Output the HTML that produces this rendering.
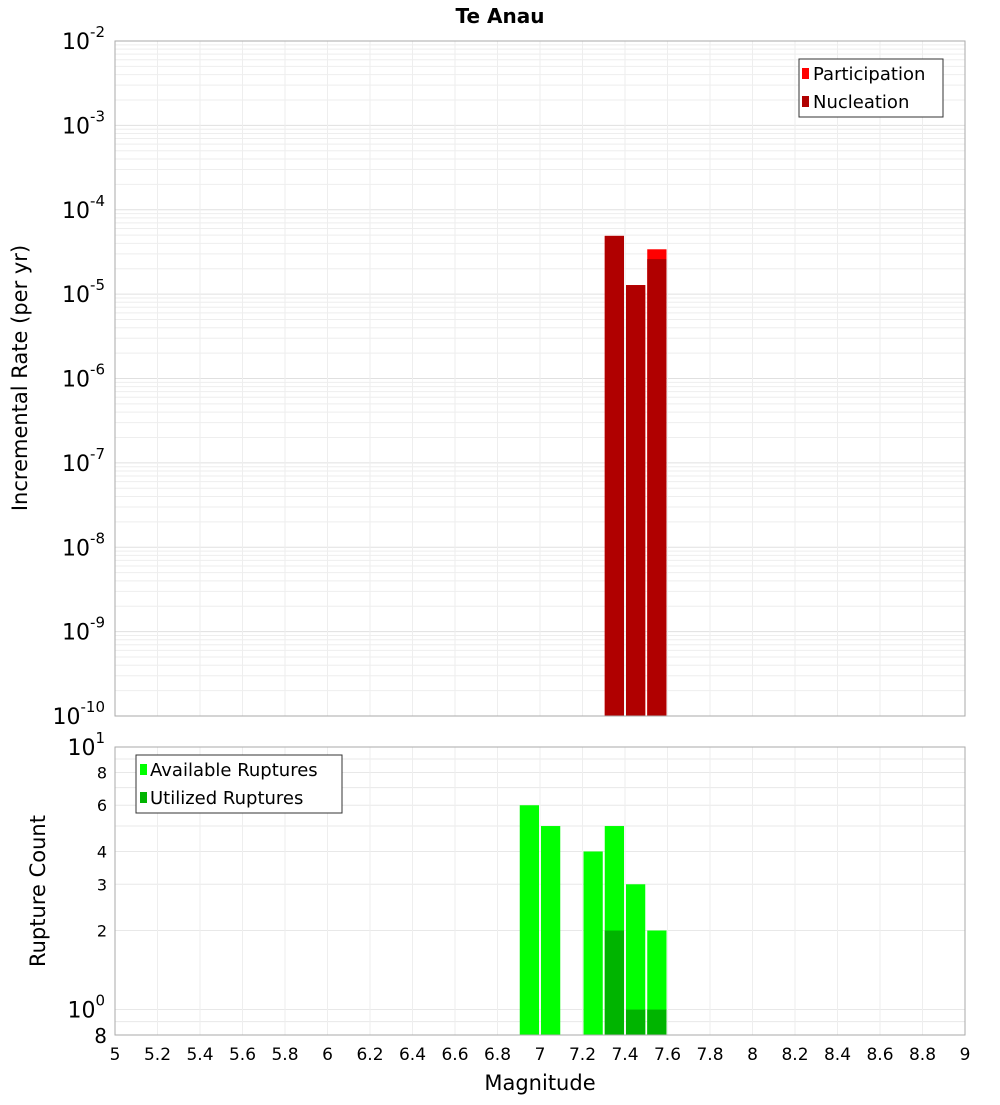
<!DOCTYPE html>
<html><head><meta charset="utf-8"><style>
body{margin:0;background:#fff;font-family:"Liberation Sans","DejaVu Sans",sans-serif}
</style></head><body>
<svg id="chart" width="1000" height="1100" xmlns="http://www.w3.org/2000/svg" font-family="DejaVu Sans, Liberation Sans, sans-serif">
<text x="500" y="23" text-anchor="middle" font-size="20" font-weight="bold">Te Anau</text>
<g id="topg"></g><g id="botg"></g>
<text transform="translate(27,378) rotate(-90)" text-anchor="middle" font-size="21">Incremental Rate (per yr)</text>
<text transform="translate(45,891) rotate(-90)" text-anchor="middle" font-size="21">Rupture Count</text>
<text x="540" y="1090" text-anchor="middle" font-size="21">Magnitude</text>
</svg>
<script>
const mags=[6.95,7.05,7.25,7.35,7.45,7.55];
const available=[6,5,4,5,3,2];
const utilized=[0,0,0,2,1,1];
const rateMags=[7.35,7.45,7.55];
const participation=[4.9e-5,1.28e-5,3.4e-5];
const nucleation=[4.9e-5,1.28e-5,2.6e-5];
const xTicks=[5,5.2,5.4,5.6,5.8,6,6.2,6.4,6.6,6.8,7,7.2,7.4,7.6,7.8,8,8.2,8.4,8.6,8.8,9];
const topExps=[-2,-3,-4,-5,-6,-7,-8,-9,-10];
const botTicks=[2,3,4,6,8];
const NS="http://www.w3.org/2000/svg";
const X0=115,X1=965;
const xs=m=>X0+(m-5)/4*(X1-X0);
const T0=41,T1=716;
const yt=v=>T0+(-2-Math.log10(v))/8*(T1-T0);
const B0=747,B1=1035,bmin=Math.log10(0.8);
const yb=v=>B0+(1-Math.log10(v))/(1-bmin)*(B1-B0);
function el(p,t,a,name){const e=document.createElementNS(NS,t);for(const k in a)e.setAttribute(k,a[k]);


p.appendChild(e);return e;}
const gTop=document.getElementById('topg'),gBot=document.getElementById('botg');
for(let e=-10;e<-2;e++)for(let k=1;k<10;k++){const y=yt(k*Math.pow(10,e));el(gTop,'line',{x1:X0,x2:X1,y1:y,y2:y,stroke:k==1?'#e0e0e0':'#eeeeee','stroke-width':1},'top-grid-line');}
for(const d of [0.8,0.9,1,2,3,4,5,6,7,8,9]){const y=yb(d);el(gBot,'line',{x1:X0,x2:X1,y1:y,y2:y,stroke:'#e8e8e8'},'bottom-grid-line');}
xTicks.forEach(m=>{const x=xs(m);el(gTop,'line',{x1:x,x2:x,y1:T0,y2:T1,stroke:'#eeeeee'},'top-x-grid');el(gBot,'line',{x1:x,x2:x,y1:B0,y2:B1,stroke:'#eeeeee'},'bottom-x-grid');
const t=el(gBot,'text',{x:x,y:1060,'text-anchor':'middle','font-size':17},'x-tick-label');t.textContent=m;});
const bw=0.1*(X1-X0)/4;
rateMags.forEach((m,i)=>{const x=xs(m)-bw/2+1;
el(gTop,'rect',{x:x,y:yt(participation[i]),width:bw-2,height:T1-yt(participation[i]),fill:'#ff0000'},'participation-bar');
el(gTop,'rect',{x:x,y:yt(nucleation[i]),width:bw-2,height:T1-yt(nucleation[i]),fill:'#b00000'},'nucleation-bar');});
mags.forEach((m,i)=>{const x=xs(m)-bw/2+1;
el(gBot,'rect',{x:x,y:yb(available[i]),width:bw-2,height:B1-yb(available[i]),fill:'#00ff00'},'available-bar');
if(utilized[i]>0)el(gBot,'rect',{x:x,y:yb(utilized[i]),width:bw-2,height:B1-yb(utilized[i]),fill:'#00b400'},'utilized-bar');});
el(gTop,'rect',{x:X0,y:T0,width:X1-X0,height:T1-T0,fill:'none',stroke:'#aaa'},'top-plot-frame');
el(gBot,'rect',{x:X0,y:B0,width:X1-X0,height:B1-B0,fill:'none',stroke:'#aaa'},'bottom-plot-frame');
topExps.forEach(e=>{const y=yt(Math.pow(10,e));const t=el(gTop,'text',{x:105,y:y+8,'text-anchor':'end','font-size':22},'top-y-tick-label');
t.innerHTML='10<tspan dy="-12" font-size="15">'+e+'</tspan>';});
let t=el(gBot,'text',{x:105,y:B0+8,'text-anchor':'end','font-size':22},'bottom-y-tick-label');t.innerHTML='10<tspan dy="-12" font-size="15">1</tspan>';
t=el(gBot,'text',{x:105,y:yb(1)+8,'text-anchor':'end','font-size':22},'bottom-y-tick-label');t.innerHTML='10<tspan dy="-12" font-size="15">0</tspan>';
t=el(gBot,'text',{x:107,y:B1+8,'text-anchor':'end','font-size':20},'bottom-y-tick-label');t.textContent='8';
botTicks.forEach(v=>{const t=el(gBot,'text',{x:107,y:yb(v)+6,'text-anchor':'end','font-size':16},'bottom-y-tick-label');t.textContent=v;});
el(gTop,'rect',{x:799,y:59,width:144,height:58,fill:'#fff',stroke:'#333'},'top-legend');
el(gTop,'rect',{x:802,y:68,width:7,height:11,fill:'#ff0000'},'legend-participation-swatch');
el(gTop,'rect',{x:802,y:96,width:7,height:11,fill:'#b00000'},'legend-nucleation-swatch');
t=el(gTop,'text',{x:813,y:80,'font-size':18},'legend-participation-label');t.textContent='Participation';
t=el(gTop,'text',{x:813,y:108,'font-size':18},'legend-nucleation-label');t.textContent='Nucleation';
el(gBot,'rect',{x:136,y:755,width:206,height:58,fill:'#fff',stroke:'#333'},'bottom-legend');
el(gBot,'rect',{x:140,y:764,width:7,height:11,fill:'#00ff00'},'legend-available-swatch');
el(gBot,'rect',{x:140,y:792,width:7,height:11,fill:'#00b400'},'legend-utilized-swatch');
t=el(gBot,'text',{x:150,y:776,'font-size':18},'legend-available-label');t.textContent='Available Ruptures';
t=el(gBot,'text',{x:150,y:804,'font-size':18},'legend-utilized-label');t.textContent='Utilized Ruptures';
</script>
</body></html>
